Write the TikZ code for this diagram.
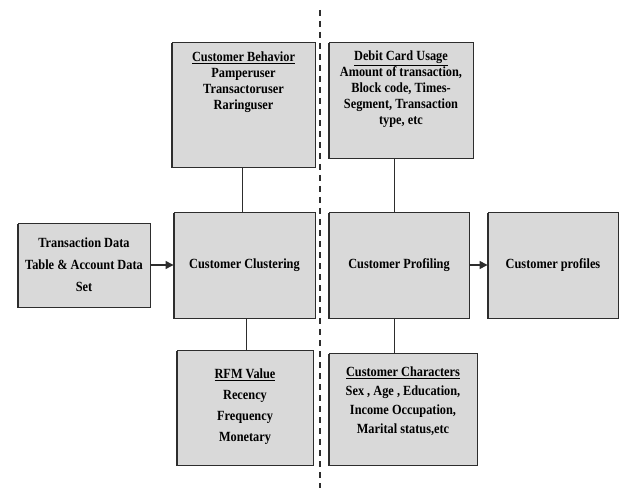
\documentclass[tikz,border=0pt]{standalone}
\usepackage{fontspec}
\setmainfont{Liberation Serif}[FakeStretch=0.88]
\usepackage{tikz}
\usetikzlibrary{arrows.meta,positioning,shadows}
\usepackage{xcolor}
\definecolor{boxgray}{RGB}{217,217,217}
\definecolor{edgegray}{RGB}{45,45,45}

\begin{document}
\begin{tikzpicture}[x=1pt, y=1pt, node distance=155pt,
    box/.style={rectangle, draw=edgegray, line width=0.9pt, fill=boxgray, inner sep=0pt,
        drop shadow={shadow xshift=-0.9pt, shadow yshift=-1.4pt, fill=edgegray, opacity=1}},
    boxtext/.style={align=center, inner sep=0pt, font=\bfseries\fontsize{14}{16}\selectfont},
    link/.style={draw=edgegray, line width=1.3pt},
    flow/.style={link, -{Triangle[length=8pt, width=8pt]}}]
    \useasboundingbox (0,0) rectangle (620,493);

    % middle row
    \node[box, minimum width=141pt, minimum height=106pt] (clust) at (244.5,228) {};
    \node[box, minimum width=140pt, minimum height=106pt, right of=clust, xshift=-0.5pt] (prof) {};
    \node[box, minimum width=130pt, minimum height=106pt, right of=prof, xshift=-1pt] (profiles) {};
    \node[box, minimum width=132pt, minimum height=84pt, left of=clust, xshift=-5.5pt] (trans) {};

    % upper and lower boxes
    \node[box, minimum width=143pt, minimum height=125pt, above of=clust, xshift=-1pt, yshift=5.5pt] (behav) {};
    \node[box, minimum width=144pt, minimum height=116pt, above of=prof, xshift=2pt, yshift=10pt] (debit) {};
    \node[box, minimum width=136pt, minimum height=115pt, below of=clust, xshift=0.5pt, yshift=12.5pt] (rfm) {};
    \node[box, minimum width=148pt, minimum height=112pt, below of=prof, xshift=4pt, yshift=11pt] (chars) {};

    % texts
    \node[boxtext] (clusttext) at (clust) {Customer Clustering};
    \node[boxtext] (proftext) at (prof) {Customer Profiling};
    \node[boxtext] (profilestext) at (profiles) {Customer profiles};
    \node[boxtext, font=\bfseries\fontsize{14}{22}\selectfont] (transtext) at (trans)
        {Transaction Data\\ Table \& Account Data\\ Set};
    \node[boxtext, yshift=22.5pt] (behavtext) at (behav)
        {\underline{Customer Behavior}\\ Pamperuser\\ Transactoruser\\ Raringuser};
    \node[boxtext, yshift=11pt] (debittext) at (debit)
        {\underline{Debit Card Usage}\\ Amount of transaction,\\ Block code, Times-\\ Segment, Transaction\\ type, etc};
    \node[boxtext, yshift=1pt, font=\bfseries\fontsize{14}{21}\selectfont] (rfmtext) at (rfm)
        {\underline{RFM Value}\\ Recency\\ Frequency\\ Monetary};
    \node[boxtext, yshift=8pt, font=\bfseries\fontsize{14}{19}\selectfont] (charstext) at (chars)
        {\underline{Customer Characters}\\ Sex , Age , Education,\\ Income Occupation,\\ Marital status,etc};

    % dashed divider
    \coordinate (divtop) at (320,483);
    \coordinate (divbot) at (320,5);
    \draw[edgegray, line width=1.2pt, dash pattern=on 6pt off 5pt] (divtop) -- (divbot);

    % connectors
    \draw[link] ([xshift=-1pt]behav.south) -- ([xshift=-1pt]behav.south |- clust.north);
    \draw[link] ([xshift=2pt]clust.south) -- ([xshift=2pt]clust.south |- rfm.north);
    \draw[link] ([xshift=-4.5pt]prof.north) -- ([xshift=-4.5pt]prof.north |- debit.south);
    \draw[link] ([xshift=-4.5pt]prof.south) -- ([xshift=-4.5pt]prof.south |- chars.north);
    \draw[flow] (trans.east) -- (clust.west);
    \draw[flow] (prof.east) -- (profiles.west);
\end{tikzpicture}
\end{document}
